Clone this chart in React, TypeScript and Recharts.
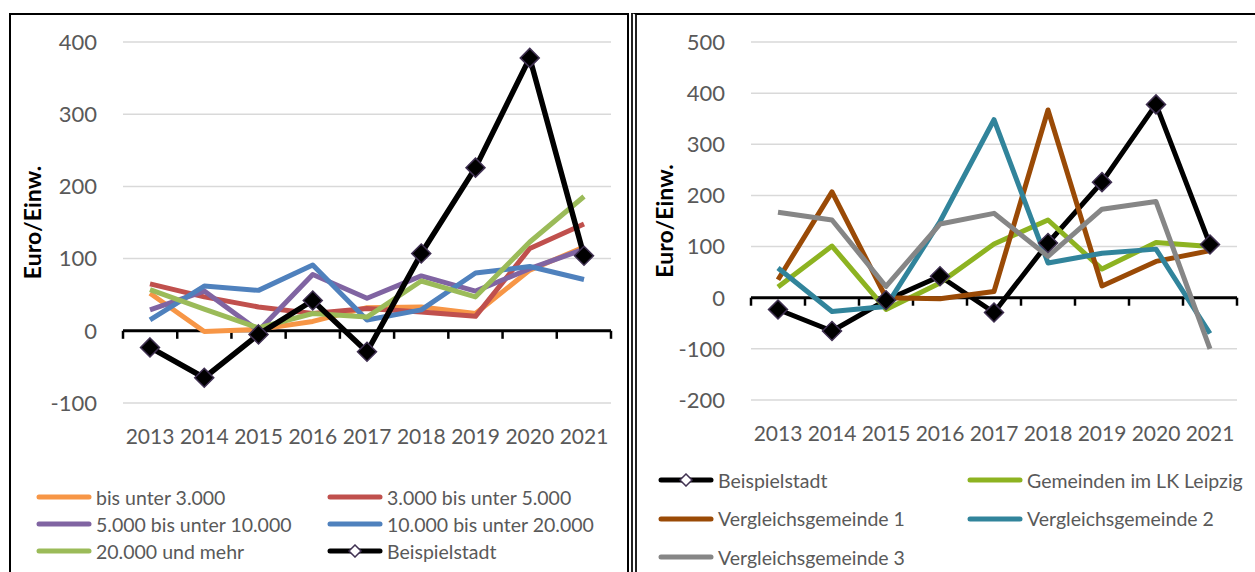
import { LineChart, Line, XAxis, YAxis, CartesianGrid, ReferenceLine } from "recharts";

const YEARS = ["2013", "2014", "2015", "2016", "2017", "2018", "2019", "2020", "2021"];

// linke Grafik: Gemeindegrößenklassen
const BIS_3000 = [52, -1, 2, 13, 32, 33, 24, 84, 116];
const VON_3000_BIS_5000 = [65, 47, 33, 24, 31, 26, 20, 114, 148];
const VON_5000_BIS_10000 = [29, 55, 0, 78, 45, 76, 55, 86, 113];
const VON_10000_BIS_20000 = [15, 62, 56, 91, 15, 29, 80, 89, 71];
const AB_20000 = [57, 30, 4, 24, 19, 69, 47, 123, 186];
const BEISPIELSTADT = [-23, -65, -5, 42, -29, 107, 226, 378, 104];

// rechte Grafik: Vergleichsgemeinden
const GEMEINDEN_LK = [21, 101, -23, 29, 105, 152, 56, 108, 100];
const VERGLEICH_1 = [35, 207, 0, -2, 12, 367, 23, 71, 92];
const VERGLEICH_2 = [58, -27, -17, 149, 348, 68, 87, 95, -70];
const VERGLEICH_3 = [167, 152, 22, 144, 165, 81, 173, 188, -100];

const LEFT_TICKS = [-100, 0, 100, 200, 300, 400];
const RIGHT_TICKS = [-200, -100, 0, 100, 200, 300, 400, 500];

const FONT = "Lato, 'Open Sans', sans-serif";
const TEXT = "#595959";
const MARKER_STROKE = "#403152";

type Series = { key: string; name: string; color: string; values: number[]; width: number; marker?: boolean };

const LEFT_SERIES: Series[] = [
  { key: "a", name: "bis unter 3.000", color: "#F79646", values: BIS_3000, width: 5 },
  { key: "b", name: "3.000 bis unter 5.000", color: "#C0504D", values: VON_3000_BIS_5000, width: 5 },
  { key: "c", name: "5.000 bis unter 10.000", color: "#8064A2", values: VON_5000_BIS_10000, width: 5 },
  { key: "d", name: "10.000 bis unter 20.000", color: "#4F81BD", values: VON_10000_BIS_20000, width: 5 },
  { key: "e", name: "20.000 und mehr", color: "#9BBB59", values: AB_20000, width: 5 },
  { key: "f", name: "Beispielstadt", color: "#000000", values: BEISPIELSTADT, width: 5.5, marker: true },
];

const RIGHT_SERIES: Series[] = [
  { key: "f", name: "Beispielstadt", color: "#000000", values: BEISPIELSTADT, width: 5, marker: true },
  { key: "g", name: "Gemeinden im LK Leipzig", color: "#8DB321", values: GEMEINDEN_LK, width: 5 },
  { key: "h", name: "Vergleichsgemeinde 1", color: "#9A4A06", values: VERGLEICH_1, width: 5 },
  { key: "i", name: "Vergleichsgemeinde 2", color: "#31849B", values: VERGLEICH_2, width: 5 },
  { key: "j", name: "Vergleichsgemeinde 3", color: "#868686", values: VERGLEICH_3, width: 5 },
];

const toRows = (series: Series[]) =>
  YEARS.map((year, i) => {
    const row: Record<string, string | number> = { year };
    series.forEach((s) => (row[s.key] = s.values[i]));
    return row;
  });

const Diamond = (size: number) => (props: any) => {
  const { cx, cy, index } = props;
  if (cx == null || cy == null) return <g key={index} />;
  return (
    <polygon
      key={index}
      points={`${cx},${cy - size} ${cx + size},${cy} ${cx},${cy + size} ${cx - size},${cy}`}
      fill="#000"
      stroke={MARKER_STROKE}
      strokeWidth={1.5}
    />
  );
};

// Nulllinie mit Teilstrichen zwischen den Kategorien
const ZeroAxis = (props: any) => {
  const { x1, x2, y1 } = props;
  const left = Math.min(x1, x2);
  const right = Math.max(x1, x2);
  const step = (right - left) / YEARS.length;
  return (
    <g>
      <line x1={left} x2={right} y1={y1} y2={y1} stroke="#000" strokeWidth={3} />
      {YEARS.concat("end").map((_, i) => (
        <line key={i} x1={left + i * step} x2={left + i * step} y1={y1} y2={y1 + 8} stroke="#000" strokeWidth={2.5} />
      ))}
    </g>
  );
};

const AxisTitle = (shift: number) => (props: any) => {
  const vb = props.viewBox;
  const x = vb.x + shift;
  const y = vb.y + vb.height / 2;
  return (
    <text
      x={x}
      y={y}
      transform={`rotate(-90 ${x} ${y})`}
      textAnchor="middle"
      dominantBaseline="central"
      fontFamily={FONT}
      fontWeight={700}
      fontSize={23}
      fill="#000"
    >
      Euro/Einw.
    </text>
  );
};

function LegendIcon({ s }: { s: Series }) {
  return (
    <svg width={56} height={14} style={{ display: "block", marginRight: 4 }}>
      <line x1={3} x2={53} y1={7} y2={7} stroke={s.color} strokeWidth={5} strokeLinecap="round" />
      {s.marker && <polygon points="28,1 34,7 28,13 22,7" fill="#fff" stroke={MARKER_STROKE} strokeWidth={1.5} />}
    </svg>
  );
}

function LegendBox({ series, x, y, rowGap }: { series: Series[]; x: number[]; y: number; rowGap: number }) {
  return (
    <>
      {series.map((s, i) => (
        <div
          key={s.key + i}
          style={{
            position: "absolute",
            left: x[i % 2],
            top: y + Math.floor(i / 2) * rowGap - 12,
            height: 24,
            display: "flex",
            alignItems: "center",
            fontFamily: FONT,
            fontSize: 19.5,
            color: TEXT,
            whiteSpace: "nowrap",
          }}
        >
          <LegendIcon s={s} />
          {s.name}
        </div>
      ))}
    </>
  );
}

function Panel({
  series,
  ticks,
  left,
  width,
  margin,
  titleShift,
}: {
  series: Series[];
  ticks: number[];
  left: number;
  width: number;
  margin: { top: number; right: number; bottom: number; left: number };
  titleShift: number;
}) {
  return (
    <div style={{ position: "absolute", left, top: 0 }}>
      <LineChart width={width} height={572} data={toRows(series)} margin={margin}>
        <CartesianGrid horizontal vertical={false} stroke="#D9D9D9" strokeWidth={1.5} />
        <XAxis
          dataKey="year"
          axisLine={false}
          tickLine={false}
          padding={{ left: 27, right: 27 }}
          tick={{ fill: TEXT, fontSize: 21, fontFamily: FONT }}
          tickMargin={20}
          height={40}
          interval={0}
        />
        <YAxis
          domain={[ticks[0], ticks[ticks.length - 1]]}
          ticks={ticks}
          axisLine={false}
          tickLine={false}
          tick={{ fill: TEXT, fontSize: 22, fontFamily: FONT }}
          tickMargin={20}
          width={60}
          label={{ content: AxisTitle(titleShift) }}
        />
        <ReferenceLine y={0} shape={ZeroAxis} />
        {series.map((s) => (
          <Line
            key={s.key}
            dataKey={s.key}
            name={s.name}
            type="linear"
            stroke={s.color}
            strokeWidth={s.width}
            strokeLinejoin="round"
            dot={s.marker ? Diamond(9.5) : false}
            activeDot={false}
            isAnimationActive={false}
          />
        ))}
      </LineChart>
    </div>
  );
}

export default function App() {
  return (
    <div style={{ position: "absolute", left: 0, top: 0, width: 1255, height: 572, background: "#fff", overflow: "hidden" }}>
      <div
        style={{ position: "absolute", left: 9, top: 13, width: 616, height: 640, border: "2px solid #000" }}
      />
      <div
        style={{
          position: "absolute",
          left: 631,
          top: 13,
          width: 700,
          height: 640,
          borderLeft: "6px double #222",
          borderTop: "2px solid #000",
        }}
      />
      <Panel
        series={LEFT_SERIES}
        ticks={LEFT_TICKS}
        left={0}
        width={630}
        margin={{ top: 42, right: 19, bottom: 129, left: 63 }}
        titleShift={-31}
      />
      <Panel
        series={RIGHT_SERIES}
        ticks={RIGHT_TICKS}
        left={630}
        width={625}
        margin={{ top: 42, right: 18, bottom: 132, left: 61 }}
        titleShift={-27}
      />
      <LegendBox series={LEFT_SERIES} x={[36, 327]} y={497} rowGap={27} />
      <LegendBox series={RIGHT_SERIES} x={[658, 967]} y={480} rowGap={38.5} />
    </div>
  );
}
